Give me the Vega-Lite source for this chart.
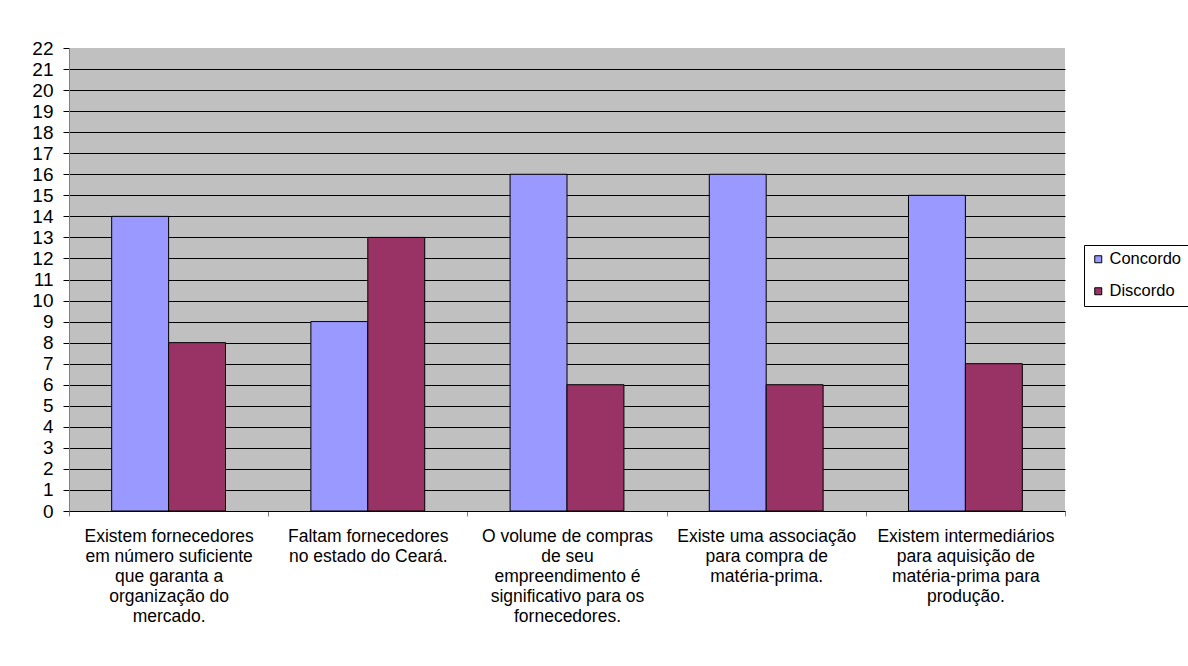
{
  "$schema": "https://vega.github.io/schema/vega-lite/v6.json",
  "autosize": {"type": "none"},
  "width": 996,
  "height": 463,
  "padding": {"left": 69, "top": 48, "right": 123, "bottom": 155},
  "background": "white",
  "data": {
    "values": [
      {"afirmacao": "Existem fornecedores|em número suficiente|que garanta a|organização do|mercado.", "ordem": 1, "resposta": "Concordo", "valor": 14},
      {"afirmacao": "Existem fornecedores|em número suficiente|que garanta a|organização do|mercado.", "ordem": 1, "resposta": "Discordo", "valor": 8},
      {"afirmacao": "Faltam fornecedores|no estado do Ceará.", "ordem": 2, "resposta": "Concordo", "valor": 9},
      {"afirmacao": "Faltam fornecedores|no estado do Ceará.", "ordem": 2, "resposta": "Discordo", "valor": 13},
      {"afirmacao": "O volume de compras|de seu|empreendimento é|significativo para os|fornecedores.", "ordem": 3, "resposta": "Concordo", "valor": 16},
      {"afirmacao": "O volume de compras|de seu|empreendimento é|significativo para os|fornecedores.", "ordem": 3, "resposta": "Discordo", "valor": 6},
      {"afirmacao": "Existe uma associação|para compra de|matéria-prima.", "ordem": 4, "resposta": "Concordo", "valor": 16},
      {"afirmacao": "Existe uma associação|para compra de|matéria-prima.", "ordem": 4, "resposta": "Discordo", "valor": 6},
      {"afirmacao": "Existem intermediários|para aquisição de|matéria-prima para|produção.", "ordem": 5, "resposta": "Concordo", "valor": 15},
      {"afirmacao": "Existem intermediários|para aquisição de|matéria-prima para|produção.", "ordem": 5, "resposta": "Discordo", "valor": 7}
    ]
  },
  "mark": {"type": "bar", "stroke": "black", "strokeWidth": 1},
  "encoding": {
    "x": {
      "field": "afirmacao",
      "type": "nominal",
      "sort": {"field": "ordem"},
      "scale": {"paddingInner": 0, "paddingOuter": 0},
      "axis": {
        "title": null,
        "labelAngle": 0,
        "labelExpr": "split(datum.label, '|')",
        "labelFont": "Liberation Sans",
        "labelFontSize": 17.5,
        "labelLineHeight": 20.2,
        "labelColor": "black",
        "labelPadding": 11,
        "labelBaseline": "top",
        "labelLimit": 400,
        "tickBand": "extent",
        "tickSize": 5,
        "tickColor": "#808080",
        "domainColor": "black",
        "grid": false
      }
    },
    "xOffset": {
      "field": "resposta",
      "type": "nominal",
      "scale": {"paddingInner": 0, "paddingOuter": 0.75}
    },
    "y": {
      "field": "valor",
      "type": "quantitative",
      "scale": {"domain": [0, 22], "nice": false},
      "axis": {
        "title": null,
        "values": [0,1,2,3,4,5,6,7,8,9,10,11,12,13,14,15,16,17,18,19,20,21,22],
        "labelFont": "Liberation Sans",
        "labelFontSize": 19,
        "labelColor": "black",
        "labelPadding": 10,
        "tickSize": 6,
        "tickColor": "black",
        "domainColor": "#808080",
        "grid": true,
        "gridColor": {"condition": {"test": "datum.value === 22", "value": "transparent"}, "value": "black"},
        "gridOpacity": 1,
        "gridWidth": 1
      }
    },
    "color": {
      "field": "resposta",
      "type": "nominal",
      "scale": {"domain": ["Concordo", "Discordo"], "range": ["#9999FF", "#993366"]},
      "legend": {
        "title": null,
        "orient": "none",
        "legendX": 1015,
        "legendY": 197,
        "strokeColor": "black",
        "fillColor": "white",
        "padding": 6,
        "symbolType": "square",
        "symbolSize": 49,
        "symbolStrokeColor": "black",
        "symbolStrokeWidth": 1,
        "labelFont": "Liberation Sans",
        "labelFontSize": 16.5,
        "labelColor": "black",
        "rowPadding": 15,
        "labelOffset": 3,
        "labelLimit": 200
      }
    }
  },
  "config": {
    "view": {"fill": "#C0C0C0", "stroke": null}
  }
}
